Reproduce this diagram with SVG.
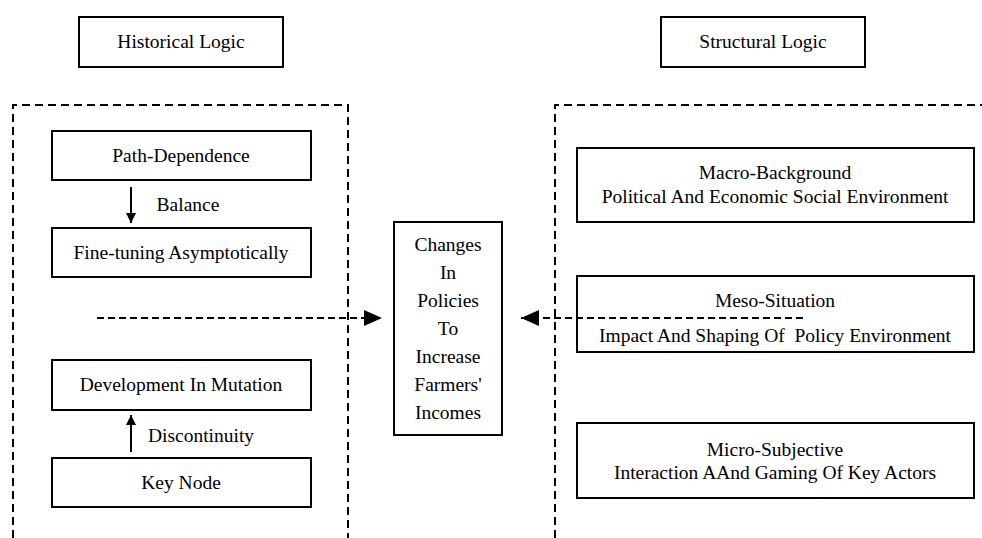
<svg xmlns="http://www.w3.org/2000/svg" width="982" height="538" viewBox="0 0 982 538">
<style>
.box{fill:#fff;stroke:#000;stroke-width:2}
.frame{fill:none;stroke:#000;stroke-width:2;stroke-dasharray:8 5}
.dash{fill:none;stroke:#000;stroke-width:2;stroke-dasharray:7 4}
.solid{fill:none;stroke:#000;stroke-width:2}
text{font-family:"Liberation Serif","Times New Roman",serif;font-size:19.5px;fill:#000;text-anchor:middle}
</style>
<defs>
<marker id="big" markerWidth="18" markerHeight="16" refX="18" refY="8" orient="auto" markerUnits="userSpaceOnUse"><path d="M0,0 L18,8 L0,16 Z" fill="#000"/></marker>
<marker id="small" markerWidth="10" markerHeight="10" refX="10" refY="5" orient="auto" markerUnits="userSpaceOnUse"><path d="M0,0 L10,5 L0,10 Z" fill="#000"/></marker>
</defs>
<rect width="982" height="538" fill="#fff"/>
<g id="frames">
<path class="frame" d="M13,538 V105 H348 V538"/>
<path class="frame" d="M555,538 V105 H982"/>
</g>
<g id="historical"><rect class="box" x="79" y="17" width="204" height="50"/><text x="181" y="48">Historical Logic</text></g>
<g id="structural"><rect class="box" x="661" y="17" width="204" height="50"/><text x="763" y="48">Structural Logic</text></g>
<g id="path-dependence"><rect class="box" x="52" y="131" width="259" height="49"/><text x="181" y="162">Path-Dependence</text></g>
<g id="fine-tuning"><rect class="box" x="52" y="228" width="259" height="49"/><text x="181" y="259">Fine-tuning Asymptotically</text></g>
<g id="development"><rect class="box" x="52" y="360" width="259" height="50"/><text x="181" y="391">Development In Mutation</text></g>
<g id="key-node"><rect class="box" x="52" y="458" width="259" height="49"/><text x="181" y="489">Key Node</text></g>
<g id="center"><rect class="box" x="394" y="222" width="108" height="213"/>
<text x="448" y="251">Changes</text><text x="448" y="279">In</text><text x="448" y="307">Policies</text><text x="448" y="335">To</text><text x="448" y="363">Increase</text><text x="448" y="391">Farmers'</text><text x="448" y="419">Incomes</text></g>
<g id="macro"><rect class="box" x="577" y="148" width="397" height="74"/><text x="775" y="179">Macro-Background</text><text x="775" y="203">Political And Economic Social Environment</text></g>
<g id="meso"><rect class="box" x="577" y="276" width="397" height="76"/><text x="775" y="307">Meso-Situation</text><text x="775" y="342" xml:space="preserve">Impact And Shaping Of  Policy Environment</text></g>
<g id="micro"><rect class="box" x="577" y="423" width="397" height="75"/><text x="775" y="456">Micro-Subjective</text><text x="775" y="479">Interaction AAnd Gaming Of Key Actors</text></g>
<g id="connectors">
<line class="solid" x1="131" y1="187" x2="131" y2="223" marker-end="url(#small)"/>
<text x="188" y="211">Balance</text>
<line class="solid" x1="131" y1="452" x2="131" y2="415" marker-end="url(#small)"/>
<text x="201" y="442">Discontinuity</text>
<line class="dash" x1="97" y1="318" x2="382" y2="318" marker-end="url(#big)"/>
<line class="dash" x1="803" y1="318" x2="521" y2="318" marker-end="url(#big)"/>
</g>
</svg>
